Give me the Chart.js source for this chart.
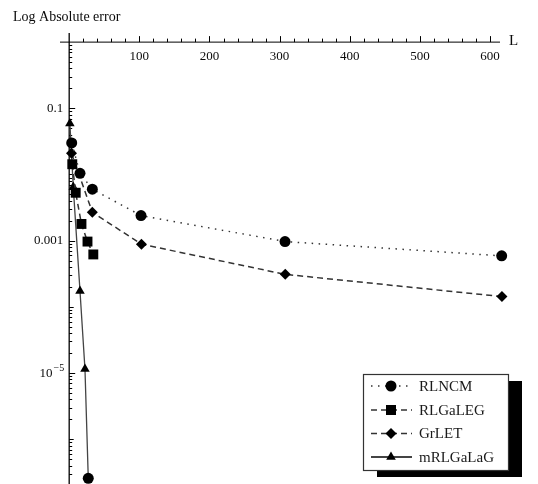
<!DOCTYPE html>
<html>
<head>
<meta charset="utf-8">
<script src="https://cdn.jsdelivr.net/npm/chart.js@4.4.0/dist/chart.umd.min.js"></script>
<style>
  body { margin: 0; background: #fff; }
  #chart { display: block; }
</style>
</head>
<body>
<canvas id="chart" width="538" height="484"></canvas>
<script>
// values (L on x, absolute error on a log y axis)
var rlncmL   = [3.6, 15.4, 33, 102.4, 307.7, 616.6];
var rlncmErr = [0.030, 0.0104, 0.0060, 0.0024, 0.00097, 0.00059];

var rlgalegL   = [4.4, 9.3, 17.5, 26.1, 34.4];
var rlgalegErr = [0.0143, 0.0053, 0.00179, 0.00097, 0.00062];

var grletL   = [3.3, 33, 103, 308, 617];
var grletErr = [0.0209, 0.00269, 0.000885, 0.00031, 0.000143];

var mrlL   = [1, 5.8, 15.4, 22.5, 27.2];
var mrlErr = [0.059, 0.0065, 0.000174, 0.0000115, 0.000000257];

var xTicks = [100, 200, 300, 400, 500, 600];
var yTicks = [0.1, 0.001, 0.00001];

var serif = '"Liberation Serif", "DejaVu Serif", serif';

function pts(xs, ys) {
    var out = [];
    for (var i in xs) {
        out.push({x: xs[i], y: ys[i]});
    }
    return out;
}

var series = [
    {label: 'RLNCM',    data: pts(rlncmL, rlncmErr),     dash: [1.5, 5.5], width: 1.5, color: '#333', style: 'circle',  r: 5.5},
    {label: 'RLGaLEG',  data: pts(rlgalegL, rlgalegErr), dash: [6, 4],     width: 1.5, color: '#333', style: 'rect',    r: 7},
    {label: 'GrLET',    data: pts(grletL, grletErr),     dash: [6, 4],     width: 1.5, color: '#333', style: 'rectRot', r: 5.5},
    {label: 'mRLGaLaG', data: pts(mrlL, mrlErr),         dash: [],         width: 1.3, color: '#444', style: ['triangle', 'triangle', 'triangle', 'triangle', 'circle'], r: 5.5}
];

var datasets = series.map(function (s) {
    return {
        label: s.label,
        data: s.data,
        borderColor: s.color,
        borderWidth: s.width,
        borderDash: s.dash,
        pointStyle: s.style,
        pointRadius: s.r,
        pointBackgroundColor: '#000',
        pointBorderColor: '#000',
        pointBorderWidth: 0,
        fill: false,
        tension: 0,
        clip: false
    };
});

// axes in the Mathematica style: x axis on top at y = 1, ticks drawn by hand
var axesPlugin = {
    id: 'axes',
    beforeDatasetsDraw: function (chart) {
        var ctx = chart.ctx;
        var xs = chart.scales.x, ys = chart.scales.y;
        var area = chart.chartArea;
        var x0 = xs.getPixelForValue(0);
        var y1 = ys.getPixelForValue(1);
        ctx.save();
        ctx.strokeStyle = '#000';
        ctx.fillStyle = '#0a0a0a';

        // y axis
        ctx.lineWidth = 1.3;
        ctx.beginPath();
        ctx.moveTo(x0, area.top);
        ctx.lineTo(x0, area.bottom);
        ctx.stroke();

        // x axis
        ctx.lineWidth = 1;
        ctx.beginPath();
        ctx.moveTo(area.left, y1);
        ctx.lineTo(area.right, y1);
        ctx.stroke();

        // x ticks
        for (var v = 20; v <= 600; v += 20) {
            var px = Math.round(xs.getPixelForValue(v)) + 0.5;
            var len = (v % 100 === 0) ? 6 : 3.5;
            ctx.beginPath();
            ctx.moveTo(px, y1);
            ctx.lineTo(px, y1 - len);
            ctx.stroke();
        }
        ctx.font = '13px ' + serif;
        ctx.textAlign = 'center';
        ctx.textBaseline = 'middle';
        xTicks.forEach(function (t) {
            ctx.fillText(String(t), xs.getPixelForValue(t), y1 + 14);
        });
        ctx.font = '15px ' + serif;
        ctx.textAlign = 'left';
        ctx.fillText('L', area.right + 9, y1 - 1);

        // y ticks
        for (var e = -7; e < 0; e++) {
            for (var k = 1; k <= 9; k++) {
                var val = k * Math.pow(10, e);
                var py = ys.getPixelForValue(val);
                if (py > area.bottom || py < y1) continue;
                var l = 3;
                if (k === 1) l = (e % 2 !== 0) ? 6 : 4.5;
                py = Math.round(py) + 0.5;
                ctx.beginPath();
                ctx.moveTo(x0, py);
                ctx.lineTo(x0 + l, py);
                ctx.stroke();
            }
        }
        ctx.textAlign = 'right';
        yTicks.forEach(function (t) {
            var py = ys.getPixelForValue(t);
            if (t >= 0.001) {
                ctx.font = '13px ' + serif;
                ctx.fillText(String(t), x0 - 6, py);
            } else {
                var ex = Math.round(Math.log10(t));
                ctx.font = '10px ' + serif;
                var sup = '\u2212' + Math.abs(ex);
                ctx.fillText(sup, x0 - 5, py - 5);
                var w = ctx.measureText(sup).width;
                ctx.font = '13px ' + serif;
                ctx.fillText('10', x0 - 5 - w - 1, py);
            }
        });

        ctx.font = '14px ' + serif;
        ctx.textAlign = 'left';
        ctx.fillText('Log Absolute error', 13, 17);
        ctx.restore();
    }
};

function marker(ctx, style, x, y) {
    ctx.beginPath();
    if (style === 'circle') {
        ctx.arc(x, y, 5.5, 0, Math.PI * 2);
    } else if (style === 'rect') {
        ctx.rect(x - 5, y - 5, 10, 10);
    } else if (style === 'rectRot') {
        ctx.moveTo(x, y - 5.5);
        ctx.lineTo(x + 5.5, y);
        ctx.lineTo(x, y + 5.5);
        ctx.lineTo(x - 5.5, y);
        ctx.closePath();
    } else {
        ctx.moveTo(x, y - 5.5);
        ctx.lineTo(x + 4.8, y + 2.8);
        ctx.lineTo(x - 4.8, y + 2.8);
        ctx.closePath();
    }
    ctx.fill();
}

var legendPlugin = {
    id: 'boxLegend',
    afterDatasetsDraw: function (chart) {
        var ctx = chart.ctx;
        var bx = 363, by = 374, bw = 145, bh = 96;
        ctx.save();
        ctx.fillStyle = '#000';
        ctx.fillRect(bx + 14, by + 7, bw, bh);
        ctx.fillStyle = '#fff';
        ctx.fillRect(bx, by, bw, bh);
        ctx.strokeStyle = '#333';
        ctx.lineWidth = 1.2;
        ctx.strokeRect(bx + 0.5, by + 0.5, bw, bh);

        var rows = [386, 410, 433.5, 457];
        series.forEach(function (s, i) {
            var y = rows[i];
            ctx.strokeStyle = s.color;
            ctx.lineWidth = (i === 3) ? 2 : s.width;
            ctx.setLineDash(s.dash);
            ctx.beginPath();
            ctx.moveTo(371, y);
            ctx.lineTo(412, y);
            ctx.stroke();
            ctx.setLineDash([]);
            ctx.fillStyle = '#000';
            var st = Array.isArray(s.style) ? s.style[0] : s.style;
            marker(ctx, st, 391, y);
            ctx.font = '15px ' + serif;
            ctx.textAlign = 'left';
            ctx.textBaseline = 'middle';
            ctx.fillStyle = '#1a1a1a';
            ctx.fillText(s.label, 419, y + 1);
        });
        ctx.restore();
    }
};

new Chart(document.getElementById('chart'), {
    type: 'line',
    data: {datasets: datasets},
    options: {
        responsive: false,
        animation: false,
        devicePixelRatio: 1,
        layout: {autoPadding: false, padding: {left: 60, right: 38, top: 33, bottom: 0}},
        scales: {
            x: {type: 'linear', min: -13.1, max: 614.2, display: false},
            y: {type: 'logarithmic', min: 2.11e-7, max: 1.373, display: false}
        },
        plugins: {
            legend: {display: false},
            tooltip: {enabled: false}
        }
    },
    plugins: [axesPlugin, legendPlugin]
});
</script>
</body>
</html>
